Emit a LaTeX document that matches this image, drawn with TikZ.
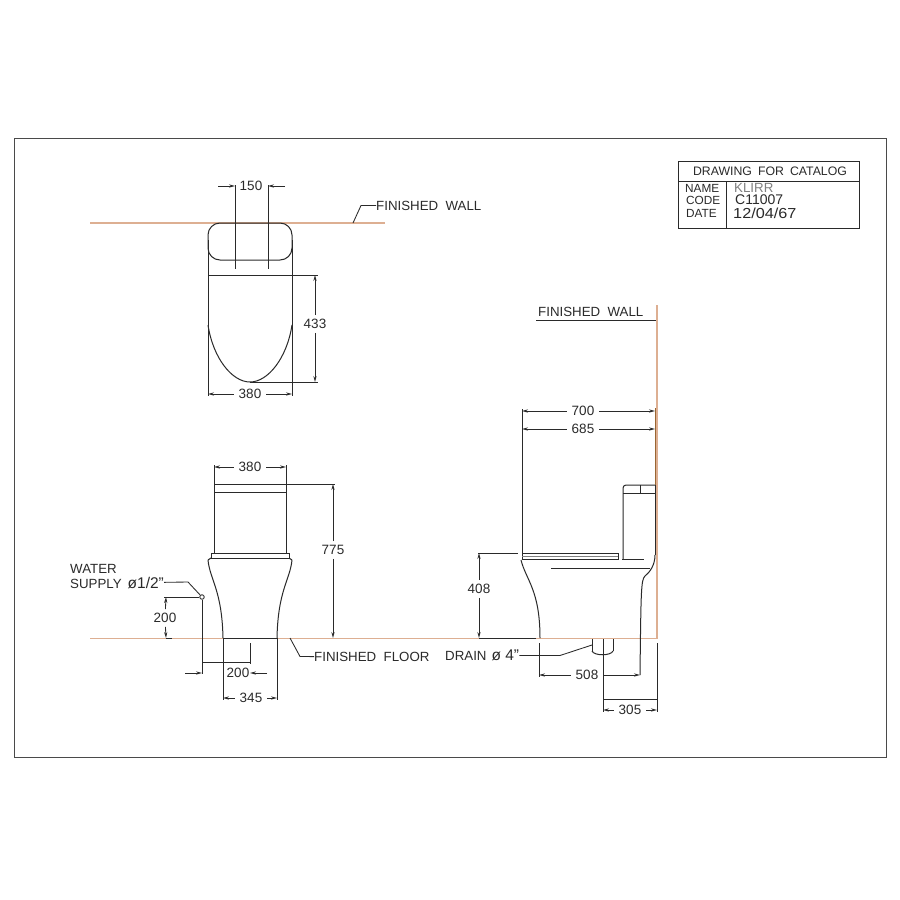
\documentclass[tikz,border=0pt]{standalone}
\usepackage{fontspec}
\setmainfont{Liberation Sans}
\usetikzlibrary{arrows.meta}
\definecolor{wallcol}{HTML}{DDAF92}
\definecolor{inkcol}{HTML}{2A2A2A}
\newcommand{\bigdia}[1]{{\fontsize{15.5}{16}\selectfont #1}}
\tikzset{
  ink/.style={color=inkcol, line width=1pt},
  thin ink/.style={color=inkcol, line width=0.85pt},
  wall/.style={color=wallcol, line width=1.5pt},
  dim/.style={color=inkcol, line width=0.85pt, -{Stealth[length=6pt,width=3.2pt]}},
  txt/.style={font=\fontsize{13.5}{15}\selectfont, text=inkcol, inner xsep=5pt, inner ysep=4pt},
  ltxt/.style={font=\fontsize{13.3}{15}\selectfont, text=inkcol, anchor=west, inner xsep=0pt, inner ysep=2pt}
}
\begin{document}
\begin{tikzpicture}[x=1pt,y=-1pt]
  \useasboundingbox (0,0) rectangle (900,900);
  \fill[white] (0,0) rectangle (900,900);
  % frame
  \draw[color=inkcol!85, line width=0.9pt] (14,138) rectangle (886,757);
  % title block
  \draw[thin ink] (678,161) rectangle (859,228);
  \draw[thin ink] (678,181) -- (859,181);
  \draw[thin ink] (726,181) -- (726,228);
  \node[ltxt,font=\fontsize{12.3}{14}\selectfont,anchor=center] (title) at (770,171) {DRAWING\hspace{6pt}FOR\hspace{6pt}CATALOG};
  \node[ltxt,font=\fontsize{11.8}{14}\selectfont] (name) at (685,188) {NAME};
  \node[ltxt,font=\fontsize{11.8}{14}\selectfont] (code) at (686,200) {CODE};
  \node[ltxt,font=\fontsize{11.8}{14}\selectfont] (date) at (686,213) {DATE};
  \node[ltxt,text=gray] (klirr) at (734,188) {KLIRR};
  \node[ltxt,font=\fontsize{14}{15}\selectfont] (codeval) at (735,200) {C11007};
  \node[ltxt,font=\fontsize{14.5}{15}\selectfont,xscale=1.12] (dateval) at (733,213) {12/04/67};
  % walls and floor
  \draw[wall] (90,223) -- (385,223);
  \draw[wall] (90,638.5) -- (657,638.5);
  \draw[wall] (657,305) -- (657,638.5);
  \draw[color=brown!80!black, line width=1.1pt] (655.5,408) -- (655.5,497);
  % plan view
  \draw[ink,rounded corners=12pt] (208,223) rectangle (292,260);
  \draw[ink] (208,275) -- (292,275);
  \draw[ink] (208,325) .. controls (213,358) and (232,382) .. (250,382) .. controls (268,382) and (287,358) .. (292,325);
  \draw[thin ink] (208,240) -- (208,396);
  \draw[thin ink] (292,240) -- (292,396);
  \draw[thin ink] (235,185) -- (235,269);
  \draw[thin ink] (268,185) -- (268,269);
  \draw[thin ink] (292,275) -- (318,275);
  \draw[thin ink] (250,382) -- (318,382);
  \node[txt] (pl150) at (251,186) {150};
  \coordinate (pl150a) at (218,186); \coordinate (pl150b) at (235,186);
  \coordinate (pl150c) at (285,186); \coordinate (pl150d) at (268,186);
  \draw[dim] (pl150a) -- (pl150b);
  \draw[dim] (pl150c) -- (pl150d);
  \node[txt] (pl433) at (315,324) {433};
  \coordinate (pl433a) at (315,275); \coordinate (pl433b) at (315,382);
  \draw[dim] (pl433) -- (pl433a);
  \draw[dim] (pl433) -- (pl433b);
  \node[txt] (pl380) at (250,394) {380};
  \coordinate (pl380a) at (208,394); \coordinate (pl380b) at (292,394);
  \draw[dim] (pl380) -- (pl380a);
  \draw[dim] (pl380) -- (pl380b);
  \node[ltxt] (plwall) at (376,205.5) {FINISHED\ \ WALL};
  \coordinate (plwalla) at (353,223); \coordinate (plwallb) at (361,205.5);
  \draw[thin ink] (plwalla) -- (plwallb) -- (plwall);
  % front view
  \draw[ink] (214,465) -- (214,553);
  \draw[ink] (286,465) -- (286,553);
  \draw[ink] (214,484) -- (286,484);
  \draw[ink] (214,492) -- (286,492);
  \draw[ink] (211,553) rectangle (289,558);
  \draw[ink] (208,560) .. controls (210,580) and (222,590) .. (223,638);
  \draw[ink] (292,560) .. controls (290,580) and (278,590) .. (277,638);
  \draw[ink] (208,560) -- (211,558);
  \draw[ink] (292,560) -- (289,558);
  \draw[thin ink] (223,638) -- (277,638);
  \draw[thin ink] (272,484) -- (335,484);
  \draw[thin ink] (223,638) -- (223,700);
  \draw[thin ink] (277,638) -- (277,700);
  \node[txt] (fr380) at (250,467) {380};
  \coordinate (fr380a) at (214,467); \coordinate (fr380b) at (286,467);
  \draw[dim] (fr380) -- (fr380a);
  \draw[dim] (fr380) -- (fr380b);
  \node[txt] (fr775) at (333,550) {775};
  \coordinate (fr775a) at (333,484); \coordinate (fr775b) at (333,638);
  \draw[dim] (fr775) -- (fr775a);
  \draw[dim] (fr775) -- (fr775b);
  \node[txt] (fr345) at (251,698) {345};
  \coordinate (fr345a) at (223,698); \coordinate (fr345b) at (277,698);
  \draw[dim] (fr345) -- (fr345a);
  \draw[dim] (fr345) -- (fr345b);
  \node[ltxt] (floor) at (314,657) {FINISHED\ \ FLOOR};
  \coordinate (floora) at (290,638); \coordinate (floorb) at (300,656.5);
  \draw[thin ink] (floora) -- (floorb) -- (floor);
  % water supply
  \node[circle,draw=inkcol,line width=0.85pt,inner sep=1.6pt] (supply) at (202,597) {};
  \node[ltxt] (water) at (70,569) {WATER};
  \node[ltxt] (suptxt) at (70,583) {SUPPLY\hspace{6pt}\bigdia{ø1/2"}};
  \coordinate (supa) at (188,582);
  \draw[thin ink] (suptxt) -- (supa) -- (supply);
  \coordinate (sup200a) at (164,597); \coordinate (sup200b) at (166,597);
  \coordinate (sup200c) at (166,638); \coordinate (sup200d) at (172,638);
  \draw[thin ink] (sup200a) -- (supply);
  \draw[thin ink] (sup200c) -- (sup200d);
  \node[txt] (sup200) at (165,618) {200};
  \draw[dim] (sup200) -- (sup200b);
  \draw[dim] (sup200) -- (sup200c);
  \coordinate (supl) at (202,674); \coordinate (supm) at (202,662);
  \coordinate (supn) at (250,662); \coordinate (supo) at (250,643);
  \draw[thin ink] (supply) -- (supl);
  \draw[thin ink] (supm) -- (supn);
  \draw[thin ink] (supo) -- (250,664);
  \node[txt,inner xsep=2pt] (low200) at (238,673) {200};
  \coordinate (low200a) at (185,673); \coordinate (low200b) at (202,673);
  \coordinate (low200c) at (267,673); \coordinate (low200d) at (250,673);
  \draw[dim] (low200a) -- (low200b);
  \draw[dim] (low200c) -- (low200d);
  % side view
  \node[ltxt] (sdwall) at (538,312) {FINISHED\ \ WALL};
  \draw[ink] (536,320) -- (656,320);
  \draw[ink] (522,409) -- (522,553);
  \draw[ink] (655,485) -- (655,555);
  \draw[ink,rounded corners=3pt] (623,559) -- (623,485) -- (655,485);
  \draw[ink] (640,485) -- (640,493);
  \draw[ink] (623,493) -- (655,493);
  \draw[ink] (522,553) rectangle (618,559);
  \draw[thin ink,color=gray] (522,556) -- (618,556);
  \draw[ink] (622,559) -- (644,559);
  \draw[ink, line width=1.3pt] (551,568.5) -- (650,568.5);
  \draw[ink] (521,560) .. controls (526,580) and (540,590) .. (540,638);
  \draw[ink] (655,555) .. controls (655,565) and (650,572) .. (645,576) .. controls (641,580) and (641,590) .. (640,675);
  \draw[thin ink] (479,638) -- (536,638);
  \draw[thin ink] (478,553) -- (518,553);
  \node[txt] (sd700) at (583,411) {700};
  \coordinate (sd700a) at (522,411); \coordinate (sd700b) at (655,411);
  \draw[dim] (sd700) -- (sd700a);
  \draw[dim] (sd700) -- (sd700b);
  \node[txt] (sd685) at (583,429) {685};
  \coordinate (sd685a) at (522,429); \coordinate (sd685b) at (655,429);
  \draw[dim] (sd685) -- (sd685a);
  \draw[dim] (sd685) -- (sd685b);
  \node[txt] (sd408) at (479,589) {408};
  \coordinate (sd408a) at (479,553); \coordinate (sd408b) at (479,638);
  \draw[dim] (sd408) -- (sd408a);
  \draw[dim] (sd408) -- (sd408b);
  \node[txt] (sd508) at (587,675) {508};
  \coordinate (sd508a) at (539,675); \coordinate (sd508b) at (640,675);
  \draw[thin ink] (539,643) -- (539,677);
  \draw[dim] (sd508) -- (sd508a);
  \draw[dim] (sd508) -- (sd508b);
  % drain
  \draw[ink] (592,639) -- (592,651);
  \draw[ink] (613,639) -- (613,651);
  \draw[ink] (592,651) .. controls (594,656) and (611,656) .. (613,651);
  \draw[thin ink] (603,639) -- (603,712);
  \node[ltxt] (drain) at (445,655.5) {DRAIN\hspace{5pt}\bigdia{ø 4"}};
  \coordinate (draina) at (560,655.5); \coordinate (drainb) at (592,645);
  \draw[thin ink] (drain) -- (draina) -- (drainb);
  \draw[thin ink] (657,643) -- (657,712);
  \draw[thin ink] (603,699) -- (657,699);
  \node[txt] (sd305) at (630,710) {305};
  \coordinate (sd305a) at (603,710); \coordinate (sd305b) at (657,710);
  \draw[dim] (sd305) -- (sd305a);
  \draw[dim] (sd305) -- (sd305b);
\end{tikzpicture}
\end{document}
